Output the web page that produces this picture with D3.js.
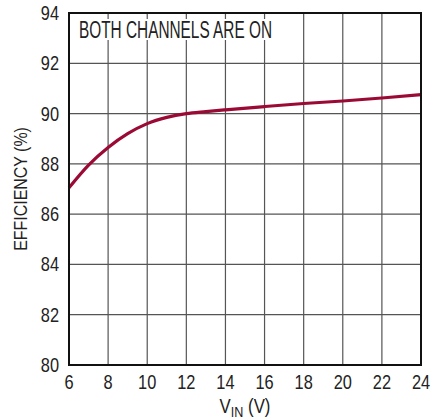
<!DOCTYPE html>
<html>
<head>
<meta charset="utf-8">
<script src="https://cdn.jsdelivr.net/npm/d3@7"></script>
<style>
  body { margin: 0; background: #fff; }
  text { font-family: "Liberation Sans Narrow", "Arial Narrow", "Liberation Sans", sans-serif; fill: #222; }
</style>
</head>
<body>
<svg id="chart" width="437" height="419"></svg>
<script>
// datos
const vin = [6, 7, 8, 9, 10, 11, 12, 13, 14, 16, 18, 20, 22, 24];
const efficiency = [87.05, 87.95, 88.65, 89.2, 89.6, 89.85, 90.0, 90.08, 90.15, 90.28, 90.4, 90.5, 90.62, 90.75];
const xTicks = [6, 8, 10, 12, 14, 16, 18, 20, 22, 24];
const yTicks = [80, 82, 84, 86, 88, 90, 92, 94];
const label = "BOTH CHANNELS ARE ON";

let svg = d3.select("#chart"),
    pLeft = 69, pRight = 421, pTop = 13, pBottom = 365,
    narrow = 0.84;  // la fuente original es condensada

let x = d3.scaleLinear().domain([6, 24]).range([pLeft, pRight]);
let y = d3.scaleLinear().domain([80, 94]).range([pBottom, pTop]);

// rejilla
svg.append("g").selectAll("line")
    .data(xTicks.slice(1, -1))
    .enter().append("line")
    .attr("x1", d => x(d)).attr("x2", d => x(d))
    .attr("y1", pTop).attr("y2", pBottom)
    .attr("stroke", "#555").attr("stroke-width", 1.2);

svg.append("g").selectAll("line")
    .data(yTicks.slice(1, -1))
    .enter().append("line")
    .attr("x1", pLeft).attr("x2", pRight)
    .attr("y1", d => y(d)).attr("y2", d => y(d))
    .attr("stroke", "#555").attr("stroke-width", 1.2);

// caja del texto
svg.append("rect")
    .attr("x", 76).attr("y", 19)
    .attr("width", 200).attr("height", 21)
    .attr("fill", "#fff");

svg.append("text")
    .attr("x", 79).attr("y", 37.5)
    .attr("font-size", 23)
    .attr("textLength", 193)
    .attr("lengthAdjust", "spacingAndGlyphs")
    .text(label);

// curva
let line = d3.line()
    .x((d, i) => x(vin[i]))
    .y(d => y(d))
    .curve(d3.curveMonotoneX);

svg.append("path")
    .datum(efficiency)
    .attr("d", line)
    .attr("fill", "none")
    .attr("stroke", "#9b0a35")
    .attr("stroke-width", 3.2);

// marco
svg.append("rect")
    .attr("x", pLeft).attr("y", pTop)
    .attr("width", pRight - pLeft).attr("height", pBottom - pTop)
    .attr("fill", "none")
    .attr("stroke", "#111").attr("stroke-width", 2);

// etiquetas de los ejes
svg.append("g").selectAll("text")
    .data(xTicks)
    .enter().append("text")
    .attr("transform", d => "translate(" + x(d) + ",389) scale(" + narrow + ",1)")
    .attr("text-anchor", "middle")
    .attr("font-size", 19.5)
    .text(d => d);

svg.append("g").selectAll("text")
    .data(yTicks)
    .enter().append("text")
    .attr("transform", d => "translate(59," + (y(d) + 7) + ") scale(" + narrow + ",1)")
    .attr("text-anchor", "end")
    .attr("font-size", 19.5)
    .text(d => d);

let xt = svg.append("text")
    .attr("transform", "translate(245,413) scale(" + narrow + ",1)")
    .attr("text-anchor", "middle")
    .attr("font-size", 20);
xt.append("tspan").text("V");
xt.append("tspan").attr("font-size", 15).attr("dy", 4).text("IN");
xt.append("tspan").attr("dy", -4).text(" (V)");

svg.append("text")
    .attr("transform", "translate(27," + y(87) + ") rotate(-90) scale(" + narrow + ",1)")
    .attr("text-anchor", "middle")
    .attr("font-size", 19)
    .text("EFFICIENCY (%)");
</script>
</body>
</html>
